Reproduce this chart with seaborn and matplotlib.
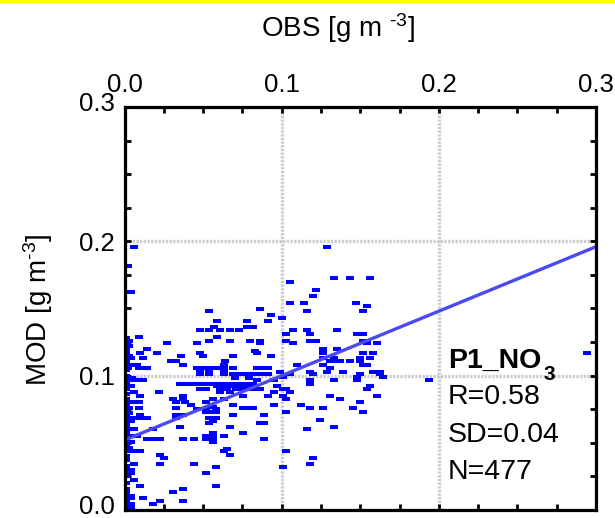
import numpy as np
import pandas as pd
import matplotlib
matplotlib.use("Agg")
import matplotlib.pyplot as plt
import seaborn as sns
from matplotlib.ticker import MultipleLocator, FixedFormatter
from matplotlib.patches import Rectangle
from matplotlib.transforms import ScaledTranslation

# ---------------- data ----------------
obs_vals = [
    0.006, 0.0025, 0.004, 0.054, 0.059, 0.078, 0.057, 0.078, 0.048, 0.054, 0.061, 0.067, 0.073,
    0.129, 0.105, 0.133, 0.1435, 0.156, 0.122, 0.120, 0.105, 0.114, 0.147, 0.154, 0.086, 0.116, 0.152, 0.093, 0.100, 0.091, 0.082, 0.1075, 0.116, 0.135,
    0.009, 0.059, 0.003, 0.054, 0.067, 0.080, 0.027, 0.046, 0.003, 0.014, 0.010, 0.0205, 0.048, 0.083, 0.003, 0.036, 0.050, 0.069, 0.004, 0.012, 0.0297, 0.033, 0.064, 0.003, 0.0375, 0.063, 0.008,
    0.002, 0.009, 0.014, 0.046, 0.050, 0.054, 0.059, 0.063, 0.069, 0.084,
    0.048, 0.054, 0.063, 0.048, 0.054, 0.063, 0.069, 0.073, 0.078, 0.082, 0.005, 0.070, 0.079, 0.003, 0.008, 0.012,
    0.035, 0.039, 0.044, 0.048, 0.052, 0.056, 0.061, 0.065, 0.069, 0.073, 0.078, 0.082,
    0.004, 0.059, 0.063, 0.067, 0.071, 0.0755, 0.080, 0.048, 0.052, 0.061, 0.065, 0.071, 0.0755, 0.080,
    0.006, 0.022, 0.061, 0.067, 0.010, 0.0375, 0.0755, 0.031, 0.0375, 0.056, 0.063, 0.004, 0.0095, 0.033, 0.0385, 0.052, 0.042, 0.069,
    0.003, 0.0095, 0.033, 0.0565, 0.0755, 0.080, 0.046, 0.052, 0.0585, 0.003, 0.010, 0.033, 0.0375, 0.052, 0.056, 0.0585, 0.069,
    0.004, 0.0095, 0.014, 0.033, 0.054, 0.058, 0.054, 0.004,
    0.118, 0.103, 0.148, 0.152, 0.086, 0.103, 0.118, 0.122, 0.152, 0.086, 0.1075, 0.154, 0.1605,
    0.084, 0.093, 0.1265, 0.1265, 0.135, 0.152, 0.158, 0.133, 0.1265, 0.156, 0.150, 0.131, 0.135, 0.137, 0.1435, 0.150,
    0.110, 0.1265, 0.152, 0.154, 0.084, 0.086, 0.091, 0.131, 0.099, 0.118, 0.129, 0.139, 0.158, 0.1625,
    0.082, 0.086, 0.091, 0.105, 0.120, 0.150, 0.1625, 0.101, 0.148, 0.1645, 0.148, 0.084, 0.095, 0.133, 0.118, 0.118,
    0.097, 0.156, 0.082, 0.086, 0.101, 0.103, 0.154, 0.105, 0.095, 0.091, 0.101, 0.131, 0.1605, 0.103, 0.137, 0.150,
    0.095, 0.112, 0.082, 0.118, 0.1265, 0.1455, 0.103, 0.152, 0.0885, 0.1245, 0.086, 0.0885,
    0.0565, 0.035, 0.067, 0.004, 0.006, 0.018, 0.0565, 0.0755, 0.006, 0.008, 0.052, 0.0565, 0.063,
    0.014, 0.018, 0.0225, 0.0375, 0.044, 0.052, 0.0565, 0.0565, 0.004, 0.003, 0.006, 0.010, 0.065, 0.063,
    0.0225, 0.067, 0.025, 0.006, 0.0225, 0.044, 0.0585, 0.004, 0.052, 0.004, 0.006, 0.010, 0.0585, 0.0375, 0.031,
    0.004, 0.004, 0.012, 0.0225, 0.0375, 0.018, 0.004, 0.004,
    0.116, 0.133, 0.0885, 0.103, 0.120, 0.118, 0.101, 0.194, 0.294,
    0.0012, 0.0012, 0.0012, 0.0012, 0.0012, 0.0012, 0.0012, 0.0012, 0.0012, 0.0012, 0.0012,
    0.0012, 0.0012, 0.0012, 0.0012, 0.0012, 0.0012, 0.0012, 0.0012, 0.0012, 0.0012, 0.0012,
    0.0012, 0.0012, 0.0012, 0.0012, 0.0012, 0.0012, 0.0012, 0.0012, 0.0012, 0.0012, 0.0012,
]
mod_vals = [
    0.196, 0.182, 0.162, 0.148, 0.141, 0.141, 0.136, 0.136, 0.134, 0.134, 0.134, 0.134, 0.134,
    0.196, 0.170, 0.173, 0.173, 0.173, 0.164, 0.159, 0.154, 0.154, 0.154, 0.152, 0.150, 0.148, 0.148, 0.145, 0.143, 0.141, 0.136, 0.134, 0.134, 0.134,
    0.129, 0.129, 0.126, 0.126, 0.126, 0.126, 0.124, 0.124, 0.122, 0.120, 0.117, 0.117, 0.117, 0.118, 0.115, 0.115, 0.115, 0.115, 0.113, 0.113, 0.111, 0.111, 0.111, 0.108, 0.108, 0.108, 0.108,
    0.106, 0.106, 0.106, 0.106, 0.106, 0.106, 0.106, 0.106, 0.106, 0.106,
    0.103, 0.103, 0.103, 0.101, 0.101, 0.101, 0.101, 0.101, 0.101, 0.101, 0.098, 0.098, 0.098, 0.097, 0.097, 0.097,
    0.094, 0.094, 0.094, 0.094, 0.094, 0.094, 0.094, 0.094, 0.094, 0.094, 0.094, 0.094,
    0.092, 0.092, 0.092, 0.092, 0.092, 0.092, 0.092, 0.090, 0.090, 0.090, 0.090, 0.090, 0.090, 0.090,
    0.088, 0.0875, 0.0875, 0.0875, 0.085, 0.085, 0.085, 0.083, 0.083, 0.083, 0.083, 0.0805, 0.0805, 0.0805, 0.0805, 0.0805, 0.078, 0.078,
    0.076, 0.076, 0.076, 0.077, 0.076, 0.076, 0.0755, 0.0755, 0.0755, 0.072, 0.0706, 0.071, 0.071, 0.073, 0.073, 0.073, 0.071,
    0.0686, 0.0686, 0.0686, 0.0686, 0.0686, 0.0686, 0.0644, 0.066,
    0.131, 0.131, 0.131, 0.131, 0.126, 0.126, 0.126, 0.126, 0.126, 0.124, 0.124, 0.124, 0.124,
    0.117, 0.115, 0.120, 0.117, 0.120, 0.117, 0.117, 0.113, 0.113, 0.113, 0.113, 0.111, 0.111, 0.111, 0.111, 0.111,
    0.108, 0.108, 0.108, 0.108, 0.106, 0.106, 0.106, 0.106, 0.103, 0.103, 0.103, 0.103, 0.103, 0.103,
    0.101, 0.101, 0.101, 0.101, 0.101, 0.101, 0.101, 0.099, 0.099, 0.099, 0.097, 0.097, 0.097, 0.097, 0.097, 0.094,
    0.092, 0.092, 0.090, 0.090, 0.090, 0.090, 0.090, 0.0875, 0.0875, 0.085, 0.085, 0.085, 0.085, 0.083, 0.083, 0.0805,
    0.078, 0.078, 0.076, 0.076, 0.076, 0.076, 0.073, 0.073, 0.071, 0.0667, 0.0645, 0.0645,
    0.066, 0.062, 0.062, 0.060, 0.060, 0.060, 0.057, 0.057, 0.055, 0.055, 0.055, 0.055, 0.055,
    0.053, 0.053, 0.053, 0.053, 0.053, 0.053, 0.053, 0.0505, 0.0505, 0.0458, 0.0436, 0.0436, 0.0456, 0.0436,
    0.041, 0.041, 0.039, 0.0345, 0.0345, 0.0345, 0.032, 0.030, 0.0275, 0.0275, 0.0225, 0.018, 0.018, 0.016, 0.0134,
    0.0106, 0.0089, 0.0089, 0.0065, 0.0065, 0.0045, 0.0045, 0.002,
    0.060, 0.062, 0.0525, 0.0436, 0.039, 0.0345, 0.032, 0.0967, 0.117,
    0.128, 0.124, 0.120, 0.117, 0.112, 0.110, 0.104, 0.100, 0.095, 0.090, 0.086,
    0.083, 0.078, 0.074, 0.070, 0.066, 0.063, 0.058, 0.055, 0.052, 0.048, 0.044,
    0.040, 0.037, 0.033, 0.028, 0.025, 0.020, 0.016, 0.013, 0.007, 0.004, 0.001,
]
assert len(obs_vals) == len(mod_vals)

fit_intercept = 0.052
fit_slope = 0.48
line_obs = [0.0, 0.3]

tick_values = [0.0, 0.1, 0.2, 0.3]
tick_labels = ["0.0", "0.1", "0.2", "0.3"]
series_name = "P1_NO"
series_sub = "3"
stat_lines = ["R=0.58", "SD=0.04", "N=477"]

# ---------------- style ----------------
sns.set_theme(style="white")
plt.rcParams["font.family"] = ["Liberation Sans", "DejaVu Sans"]
plt.rcParams["text.color"] = "black"
plt.rcParams["axes.labelcolor"] = "black"
plt.rcParams["xtick.color"] = "black"
plt.rcParams["ytick.color"] = "black"
plt.rcParams["mathtext.fontset"] = "custom"
plt.rcParams["mathtext.rm"] = "Liberation Sans"
plt.rcParams["mathtext.it"] = "Liberation Sans:italic"
plt.rcParams["mathtext.bf"] = "Liberation Sans:bold"

W, H = 615, 518
fig = plt.figure(figsize=(W / 100, H / 100), dpi=100)
fig.patch.set_facecolor("white")
ax = fig.add_axes([124.5 / W, (H - 510) / H, (596 - 124.5) / W, (510 - 107) / H])

df = pd.DataFrame({"OBS": obs_vals, "MOD": mod_vals})
sns.scatterplot(data=df, x="OBS", y="MOD", ax=ax, marker="_", s=30,
                linewidth=2.9, color="#0000ff", zorder=3, legend=False)

line_df = pd.DataFrame({"OBS": line_obs,
                        "MOD": [fit_intercept + fit_slope * v for v in line_obs]})
sns.lineplot(data=line_df, x="OBS", y="MOD", ax=ax, color="#4a4af2",
             linewidth=2.4, zorder=4)

ax.set_xlim(0, 0.3)
ax.set_ylim(0, 0.3)
ax.set_xticks(tick_values)
ax.set_yticks(tick_values)
ax.set_xticklabels(tick_labels)
ax.set_yticklabels(tick_labels)
ax.xaxis.set_minor_locator(MultipleLocator(0.025))
ax.yaxis.set_minor_locator(MultipleLocator(0.025))

ax.grid(True, which="major", color="#cccccc", linewidth=2.4,
        linestyle=(0, (0.7, 0.4)), zorder=1)
ax.set_axisbelow(True)

for sp in ax.spines.values():
    sp.set_visible(True)
    sp.set_color("black")
    sp.set_linewidth(2.3)
    sp.set_zorder(5)

ax.tick_params(which="both", direction="in", length=4, width=2,
               top=True, right=True, bottom=True, left=True,
               labeltop=True, labelbottom=False, labelleft=True, labelright=False,
               color="black", labelcolor="black", labelsize=18.5, pad=7)

# nudge the end labels of the y axis up a little, as in the reference
for lbl in ax.get_yticklabels():
    if lbl.get_text() in ("0.0", "0.3"):
        lbl.set_transform(lbl.get_transform() + ScaledTranslation(0, 4 / 72, fig.dpi_scale_trans))

ax.xaxis.set_label_position("top")
ax.set_xlabel(r"OBS [g m $^{\text{-3}}$]", fontsize=20, color="black", va="bottom")
ax.xaxis.set_label_coords(0.453, (510 - 45) / 403)
ax.set_ylabel(r"MOD [g m$^{\text{-3}}$]", fontsize=20, color="black", va="bottom")
ax.yaxis.set_label_coords((55 - 124.5) / 471.5, 0.496)

tx = 0.2058
ax.text(tx, 0.111, series_name, fontsize=20.5, fontweight="bold", ha="left", va="center", zorder=6)
ax.text(0.2665, 0.1005, series_sub, fontsize=15, fontweight="bold", ha="left", va="center", zorder=6)
for txt, yv in zip(stat_lines, [0.0841, 0.0558, 0.0283]):
    ax.text(tx, yv, txt, fontsize=20.5, ha="left", va="center", zorder=6)

fig.add_artist(Rectangle((0, 1 - 3 / H), 1, 3 / H, transform=fig.transFigure,
                         facecolor="#ffff00", edgecolor="none"))

fig.savefig("out.png", dpi=100)
